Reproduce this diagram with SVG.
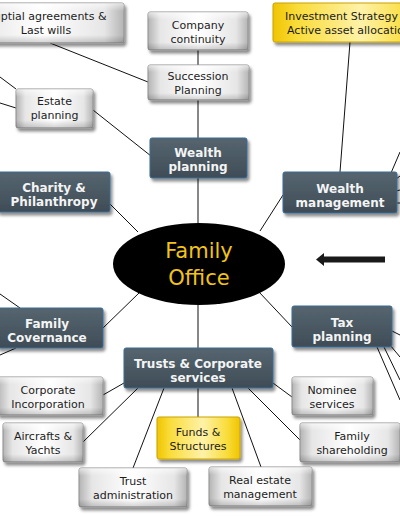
<svg xmlns="http://www.w3.org/2000/svg" width="400" height="516" viewBox="0 0 400 516">
<defs>
<filter id="sh" x="-10%" y="-20%" width="130%" height="150%">
<feDropShadow dx="2" dy="3" stdDeviation="1.6" flood-color="#000" flood-opacity="0.45"/>
</filter>
<linearGradient id="gDark" x1="0" y1="0" x2="0" y2="1">
<stop offset="0" stop-color="#56656f"/>
<stop offset="0.5" stop-color="#4a5963"/>
<stop offset="1" stop-color="#3f4c56"/>
</linearGradient>
<linearGradient id="gLightH" x1="0" y1="0" x2="1" y2="0">
<stop offset="0" stop-color="#b4b4b4"/>
<stop offset="0.12" stop-color="#e6e6e6"/>
<stop offset="0.5" stop-color="#ffffff"/>
<stop offset="0.88" stop-color="#e6e6e6"/>
<stop offset="1" stop-color="#b4b4b4"/>
</linearGradient>
<linearGradient id="gLightV" x1="0" y1="0" x2="0" y2="1">
<stop offset="0" stop-color="#ffffff" stop-opacity="0.6"/>
<stop offset="0.2" stop-color="#ffffff" stop-opacity="0"/>
<stop offset="0.8" stop-color="#000000" stop-opacity="0"/>
<stop offset="1" stop-color="#000000" stop-opacity="0.18"/>
</linearGradient>
<linearGradient id="gYel" x1="0" y1="0" x2="1" y2="0">
<stop offset="0" stop-color="#f0c400"/>
<stop offset="0.15" stop-color="#f9dc3a"/>
<stop offset="0.55" stop-color="#fff2a8"/>
<stop offset="0.85" stop-color="#f9dc3a"/>
<stop offset="1" stop-color="#f0c400"/>
</linearGradient>
</defs>
<style>
.dk{fill:url(#gDark);stroke:#3b6c97;stroke-width:1;filter:url(#sh)}
.lt{fill:url(#gLightH);stroke:#8f8f8f;stroke-width:1;filter:url(#sh)}
.yl{fill:url(#gYel);stroke:#c9a200;stroke-width:1;filter:url(#sh)}
.bev{fill:url(#gLightV);stroke:none}
.tl{font-family:"DejaVu Sans",Verdana,sans-serif;font-size:11px;fill:#1c1c1c;text-anchor:middle}
.td{font-family:"DejaVu Sans",Verdana,sans-serif;font-size:12px;font-weight:bold;fill:#f4f4f4;text-anchor:middle}
.tc{font-family:"DejaVu Sans",Verdana,sans-serif;font-size:21px;fill:#f2c31b;text-anchor:middle}
#connectors line{stroke:#111;stroke-width:1}
</style>
<rect width="400" height="516" fill="#fff"/>

<g id="connectors">
<line x1="50" y1="43" x2="148" y2="82"/>
<line x1="0" y1="77" x2="16" y2="89"/>
<line x1="0" y1="103" x2="16" y2="108"/>
<line x1="93" y1="110" x2="151" y2="156"/>
<line x1="198" y1="50" x2="198" y2="65"/>
<line x1="198" y1="100" x2="198" y2="138"/>
<line x1="198" y1="178" x2="198" y2="223"/>
<line x1="110" y1="204" x2="138" y2="232"/>
<line x1="283" y1="195" x2="260" y2="231"/>
<line x1="350" y1="42" x2="340" y2="172"/>
<line x1="391" y1="173" x2="400" y2="152"/>
<line x1="396" y1="179" x2="400" y2="176"/>
<line x1="396" y1="191" x2="400" y2="190"/>
<line x1="396" y1="203" x2="400" y2="203"/>
<line x1="392" y1="331" x2="400" y2="335"/>
<line x1="390" y1="345" x2="400" y2="357"/>
<line x1="384" y1="347" x2="400" y2="380"/>
<line x1="377" y1="347" x2="400" y2="400"/>
<line x1="292" y1="327" x2="259" y2="292"/>
<line x1="103" y1="328" x2="139" y2="293"/>
<line x1="0" y1="294" x2="20" y2="308"/>
<line x1="0" y1="355" x2="16" y2="348"/>
<line x1="198" y1="305" x2="198" y2="348"/>
<line x1="124" y1="383" x2="103" y2="395"/>
<line x1="138" y1="388" x2="83" y2="442"/>
<line x1="164" y1="388" x2="133" y2="468"/>
<line x1="198" y1="388" x2="198" y2="417"/>
<line x1="232" y1="388" x2="261" y2="467"/>
<line x1="248" y1="388" x2="302" y2="442"/>
<line x1="273" y1="383" x2="292" y2="397"/>
</g>

<g id="arrow">
<polygon points="316,259.5 324,253 324,256.5 385,256.5 385,262.5 324,262.5 324,266" fill="#1a1a1a"/>
</g>

<g id="family-office">
<ellipse cx="199" cy="264" rx="86" ry="41" fill="#000"/>
<text class="tc" x="199" y="258">Family</text>
<text class="tc" x="199" y="285">Office</text>
</g>

<g id="nuptial">
<rect class="lt" x="-40" y="3" width="164" height="40" rx="2"/>
<rect class="bev" x="-40" y="3" width="164" height="40" rx="2"/>
<text class="tl" x="46" y="20">Nuptial agreements &amp;</text>
<text class="tl" x="46" y="34">Last wills</text>
</g>

<g id="company-continuity">
<rect class="lt" x="148" y="12" width="100" height="38" rx="2"/>
<rect class="bev" x="148" y="12" width="100" height="38" rx="2"/>
<text class="tl" x="198" y="29">Company</text>
<text class="tl" x="198" y="43">continuity</text>
</g>

<g id="succession-planning">
<rect class="lt" x="148" y="65" width="101" height="35" rx="2"/>
<rect class="bev" x="148" y="65" width="101" height="35" rx="2"/>
<text class="tl" x="198" y="80">Succession</text>
<text class="tl" x="198" y="94">Planning</text>
</g>

<g id="investment-strategy">
<rect class="yl" x="273" y="3" width="160" height="39" rx="2"/>
<text class="tl" x="285" y="20" style="text-anchor:start">Investment Strategy</text>
<text class="tl" x="287" y="34" style="text-anchor:start">Active asset allocation</text>
</g>

<g id="estate-planning">
<rect class="lt" x="16" y="89" width="77" height="39" rx="2"/>
<rect class="bev" x="16" y="89" width="77" height="39" rx="2"/>
<text class="tl" x="54.5" y="105">Estate</text>
<text class="tl" x="54.5" y="119">planning</text>
</g>

<g id="wealth-planning">
<rect class="dk" x="150" y="138" width="97" height="40" rx="2"/>
<text class="td" x="198" y="157">Wealth</text>
<text class="td" x="198" y="171">planning</text>
</g>

<g id="charity">
<rect class="dk" x="-3" y="172" width="113" height="40" rx="2"/>
<text class="td" x="54" y="192">Charity &amp;</text>
<text class="td" x="54" y="206">Philanthropy</text>
</g>

<g id="wealth-management">
<rect class="dk" x="283" y="172" width="114" height="41" rx="2"/>
<text class="td" x="340" y="193">Wealth</text>
<text class="td" x="340" y="207">management</text>
</g>

<g id="family-covernance">
<rect class="dk" x="-3" y="308" width="106" height="40" rx="2"/>
<text class="td" x="47" y="328">Family</text>
<text class="td" x="47" y="342">Covernance</text>
</g>

<g id="tax-planning">
<rect class="dk" x="292" y="306" width="100" height="41" rx="2"/>
<text class="td" x="342" y="327">Tax</text>
<text class="td" x="342" y="341">planning</text>
</g>

<g id="trusts-corporate">
<rect class="dk" x="124" y="348" width="149" height="40" rx="2"/>
<text class="td" x="198" y="368">Trusts &amp; Corporate</text>
<text class="td" x="198" y="382">services</text>
</g>

<g id="corporate-incorporation">
<rect class="lt" x="-3" y="377" width="106" height="38" rx="2"/>
<rect class="bev" x="-3" y="377" width="106" height="38" rx="2"/>
<text class="tl" x="48" y="394">Corporate</text>
<text class="tl" x="48" y="408">Incorporation</text>
</g>

<g id="nominee-services">
<rect class="lt" x="292" y="377" width="81" height="38" rx="2"/>
<rect class="bev" x="292" y="377" width="81" height="38" rx="2"/>
<text class="tl" x="332" y="394">Nominee</text>
<text class="tl" x="332" y="408">services</text>
</g>

<g id="aircrafts-yachts">
<rect class="lt" x="3" y="423" width="80" height="39" rx="2"/>
<rect class="bev" x="3" y="423" width="80" height="39" rx="2"/>
<text class="tl" x="43" y="440">Aircrafts &amp;</text>
<text class="tl" x="43" y="454">Yachts</text>
</g>

<g id="funds-structures">
<rect class="yl" x="157" y="417" width="83" height="42" rx="2"/>
<text class="tl" x="198" y="436">Funds &amp;</text>
<text class="tl" x="198" y="450">Structures</text>
</g>

<g id="family-shareholding">
<rect class="lt" x="300" y="423" width="100" height="39" rx="2"/>
<rect class="bev" x="300" y="423" width="100" height="39" rx="2"/>
<text class="tl" x="352" y="440">Family</text>
<text class="tl" x="352" y="454">shareholding</text>
</g>

<g id="trust-administration">
<rect class="lt" x="79" y="468" width="108" height="39" rx="2"/>
<rect class="bev" x="79" y="468" width="108" height="39" rx="2"/>
<text class="tl" x="133" y="485">Trust</text>
<text class="tl" x="133" y="499">administration</text>
</g>

<g id="real-estate-management">
<rect class="lt" x="209" y="467" width="103" height="39" rx="2"/>
<rect class="bev" x="209" y="467" width="103" height="39" rx="2"/>
<text class="tl" x="260" y="484">Real estate</text>
<text class="tl" x="260" y="498">management</text>
</g>
</svg>
